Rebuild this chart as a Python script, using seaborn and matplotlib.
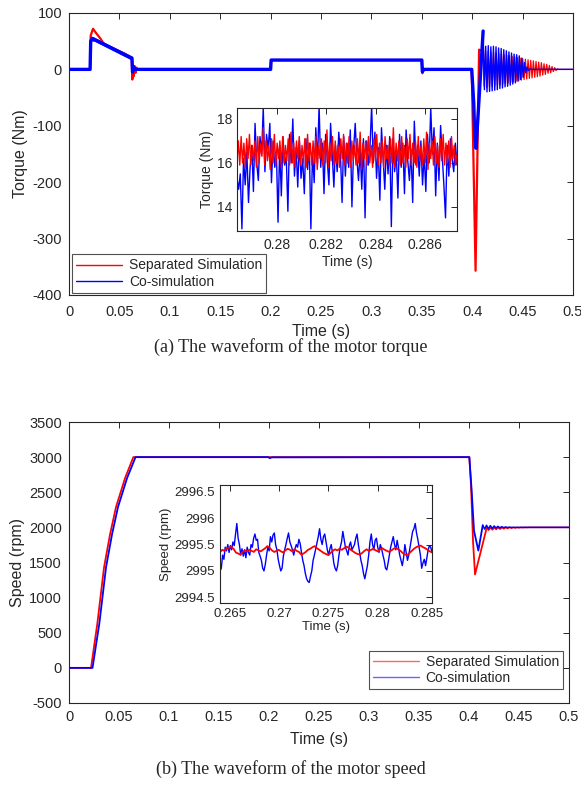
import numpy as np
import pandas as pd
import matplotlib
matplotlib.use("Agg")
import matplotlib.pyplot as plt
import seaborn as sns

sns.set_style("white")
plt.rcParams['font.family'] = ['Liberation Sans', 'DejaVu Sans']
plt.rcParams['axes.unicode_minus'] = False

RED = "#FF0000"
BLUE = "#0000FF"
labels_series = ["Separated Simulation", "Co-simulation"]

# ---------------- Torque (main) ----------------
tq_red_t = [0, 0.0209, 0.0215, 0.0238, 0.027, 0.031, 0.035, 0.045, 0.055, 0.0622,
            0.0628, 0.0635, 0.0642, 0.065, 0.066, 0.067, 0.068, 0.2, 0.2005, 0.35,
            0.3505, 0.352, 0.3995, 0.4033, 0.4068, 0.4105]
tq_red_v = [0, 0, 60, 72, 64, 55, 44, 36, 28, 20,
            -18, 8, -12, 6, -6, 3, 0, 0, 16.5, 16.5,
            -7, 0, 0, -357, 35, 32]
tq_red_osc = [-30, 33, -32, 32, -31, 31, -30, 30, -29, 29, -28, 28, -27, 27, -26, 26,
              -25, 25, -24, 24, -23, 23, -22, 22, -21, 21, -20, 20, -19, 19, -18, 18,
              -17, 17, -16, 16, -15, 15, -14, 14, -13, 13, -12, 12, -10, 10, -9, 9,
              -7, 7, -6, 5, -4, 3, -2, 1]
tq_red_end = [0, 0]

tq_blue_t = [0, 0.0209, 0.0215, 0.023, 0.0625, 0.063, 0.064, 0.0655, 0.2, 0.2005,
             0.35, 0.3505, 0.352, 0.3995, 0.4015, 0.4025, 0.403, 0.4038, 0.4108]
tq_blue_v = [0, 0, 50, 55, 20, -5, 4, 0, 0, 16.5,
             16.5, -4, 0, 0, -60, -117, -125, -140, 68]
tq_blue_osc = [-36, 41, -40, 42, -39, 40, -38, 41, -37, 40, -36, 38, -34, 37, -33, 35,
               -31, 33, -30, 31, -28, 29, -26, 27, -24, 26, -21, 24, -18, 20, -14, 12,
               -6, 4, -2, 1]
tq_blue_end = [0, 0]
# thick band of the co-simulation during the start-up
band_t = [0.0225, 0.025, 0.0625]
band_hi = [58, 57, 23]
band_lo = [50, 50, 16]

# ---------------- Torque (inset) ----------------
tq_in_red = [16.1,17.0,15.9,17.2,16.0,16.9,15.8,17.1,16.2,17.3,
15.9,16.8,16.1,17.0,15.8,17.2,16.0,16.9,16.3,17.6,
15.9,17.0,16.1,16.8,15.7,17.1,16.0,17.3,15.9,16.9,
16.2,17.0,15.8,17.2,16.0,16.8,16.1,17.1,15.9,17.4,
16.0,16.9,15.8,17.0,16.2,17.2,15.9,16.8,16.0,17.1,
15.8,17.3,16.1,16.9,15.9,17.0,16.0,17.2,15.7,16.8,
16.2,17.1,15.9,17.0,16.0,17.5,15.8,16.9,16.1,17.2,
15.9,17.0,16.0,16.8,15.8,17.1,16.2,17.3,15.9,16.9,
16.0,17.2,15.8,17.0,16.1,16.8,15.9,17.1,16.0,17.4,
15.7,16.9,16.2,17.0,15.9,17.2,16.0,16.8,15.8,17.1,
16.1,17.3,15.9,16.9,16.0,17.0,15.8,17.2,16.2,16.8,
15.9,17.1,16.0,17.6,15.8,16.9,16.1,17.0,15.9,17.2,
16.0,16.8,15.8,17.1,16.2,17.3,15.9,16.9,16.0,17.0,
15.8,17.2,16.1,16.8,15.9,17.1,16.0,17.4,15.7,16.9,
16.2,17.0,15.9,17.2,16.0,16.8,15.8,17.1,16.1,17.3,
15.9,16.9,16.0,17.0,15.8,17.2,16.2,16.8,15.9,16.4]
tq_in_blue = [15.3,14.8,15.5,13.0,16.2,15.0,16.5,14.2,15.8,16.8,
14.7,17.8,16.0,15.2,17.2,16.4,18.5,15.6,17.3,16.6,
17.8,15.1,17.0,15.8,16.5,13.3,16.8,14.5,17.2,15.9,
16.3,13.8,17.3,16.0,18.0,15.4,16.7,14.9,17.0,15.3,
16.2,14.6,17.1,15.7,16.9,13.0,16.5,15.1,17.6,16.0,
18.6,15.8,16.9,14.6,17.3,16.1,15.0,17.8,16.3,14.9,
16.8,15.6,17.4,16.4,14.2,17.2,15.4,16.9,15.8,17.5,
14.0,16.6,17.8,16.2,15.2,16.6,14.8,17.1,13.5,17.0,
15.9,16.7,18.6,16.0,17.4,15.3,16.7,14.3,17.6,16.2,
14.8,16.8,15.5,17.2,13.1,17.1,15.6,16.5,14.4,17.3,
15.8,16.9,14.6,17.5,16.1,15.2,16.6,14.2,17.9,15.9,
16.8,15.4,17.0,15.0,16.4,14.7,17.3,16.0,18.5,16.4,
17.6,14.5,16.9,15.2,17.7,16.3,15.0,13.5,16.8,15.4,
17.1,16.2,15.6,16.9,15.9]
tq_in_range = (0.27838, 0.2873)

# ---------------- Speed (main) ----------------
sp_red_t = [0, 0.022, 0.0283, 0.035, 0.041, 0.047, 0.056, 0.0643, 0.2, 0.4003,
            0.402, 0.404, 0.406, 0.4177]
sp_red_v = [0, 0, 630, 1430, 1900, 2290, 2700, 3000, 3000, 3000,
            2600, 1800, 1330, 1996]
sp_red_osc = [1960, 1995, 1965, 1997, 1970, 1998, 1975, 1998, 1980, 1999, 1984, 2000,
              1988, 2000, 1991, 2000, 1994, 2000, 1996, 2000, 1998, 2000]
sp_blue_t = [0, 0.0235, 0.0303, 0.037, 0.043, 0.049, 0.058, 0.0665, 0.1995, 0.2005,
             0.203, 0.4003, 0.4025, 0.405, 0.4093, 0.4137]
sp_blue_v = [0, 0, 630, 1430, 1900, 2290, 2700, 3000, 3000, 2985,
             2997, 3000, 2550, 1950, 1670, 2030]
sp_blue_osc = [1975, 2030, 1980, 2025, 1985, 2020, 1990, 2015, 1993, 2010, 1996, 2006,
               1998, 2003, 2000]

# ---------------- Speed (inset) ----------------
sp_in_red = [2995.36,2995.40,2995.38,2995.43,2995.44,2995.46,2995.42,2995.35,2995.33,2995.31,
2995.36,2995.39,2995.37,2995.40,2995.38,2995.36,2995.41,2995.39,2995.37,2995.40,
2995.43,2995.47,2995.44,2995.39,2995.36,2995.38,2995.40,2995.37,2995.35,2995.39,
2995.42,2995.40,2995.37,2995.41,2995.38,2995.36,2995.31,2995.33,2995.36,2995.40,
2995.42,2995.45,2995.47,2995.43,2995.40,2995.37,2995.34,2995.32,2995.30,2995.34,
2995.38,2995.41,2995.39,2995.42,2995.40,2995.43,2995.46,2995.44,2995.40,2995.37,
2995.34,2995.32,2995.31,2995.34,2995.38,2995.41,2995.38,2995.40,2995.42,2995.39,
2995.37,2995.41,2995.43,2995.40,2995.38,2995.36,2995.39,2995.42,2995.44,2995.41,
2995.38,2995.34,2995.31,2995.30,2995.34,2995.38,2995.42,2995.45,2995.47,2995.48,
2995.45,2995.43,2995.40,2995.37,2995.35]
sp_in_blue = [2995.00,2995.05,2995.30,2995.22,2995.45,2995.38,2995.50,2995.35,2995.48,2995.40,
2995.55,2995.48,2995.70,2995.90,2995.62,2995.50,2995.30,2995.42,2995.28,2995.40,
2995.25,2995.45,2995.35,2995.30,2995.50,2995.45,2995.62,2995.70,2995.58,2995.60,
2995.35,2995.28,2995.20,2995.05,2995.00,2995.12,2995.30,2995.45,2995.38,2995.65,
2995.55,2995.68,2995.72,2995.50,2995.40,2995.22,2995.10,2995.00,2995.05,2995.28,
2995.40,2995.50,2995.62,2995.72,2995.55,2995.48,2995.40,2995.30,2995.42,2995.50,
2995.45,2995.60,2995.52,2995.35,2995.20,2995.10,2994.95,2994.85,2994.80,2994.78,
2994.90,2995.00,2995.20,2995.30,2995.42,2995.55,2995.65,2995.80,2995.60,2995.50,
2995.65,2995.70,2995.55,2995.40,2995.30,2995.42,2995.50,2995.35,2995.15,2995.05,
2995.00,2995.10,2995.30,2995.45,2995.55,2995.75,2995.60,2995.45,2995.38,2995.30,
2995.48,2995.55,2995.40,2995.45,2995.50,2995.62,2995.70,2995.50,2995.35,2995.20,
2995.10,2994.95,2994.85,2994.98,2995.10,2995.30,2995.55,2995.70,2995.50,2995.40,
2995.58,2995.62,2995.45,2995.35,2995.50,2995.42,2995.30,2995.20,2995.05,2995.02,
2995.15,2995.30,2995.45,2995.55,2995.65,2995.50,2995.40,2995.58,2995.45,2995.30,
2995.20,2995.10,2995.25,2995.50,2995.35,2995.20,2995.30,2995.45,2995.60,2995.75,
2995.80,2995.90,2995.72,2995.60,2995.45,2995.30,2995.05,2995.15,2995.22,2995.10,
2995.25,2995.40,2995.48,2995.45,2995.35]
sp_in_range = (0.2640, 0.2855)

# tick labels
main_xticks = [0, 0.05, 0.1, 0.15, 0.2, 0.25, 0.3, 0.35, 0.4, 0.45, 0.5]
main_xlabels = ["0", "0.05", "0.1", "0.15", "0.2", "0.25", "0.3", "0.35", "0.4", "0.45", "0.5"]
tq_yticks = [-400, -300, -200, -100, 0, 100]
sp_yticks = [-500, 0, 500, 1000, 1500, 2000, 2500, 3000, 3500]
tq_in_xticks = [0.28, 0.282, 0.284, 0.286]
tq_in_xlabels = ["0.28", "0.282", "0.284", "0.286"]
tq_in_yticks = [14, 16, 18]
sp_in_xticks = [0.265, 0.27, 0.275, 0.28, 0.285]
sp_in_xlabels = ["0.265", "0.27", "0.275", "0.28", "0.285"]
sp_in_yticks = [2994.5, 2995, 2995.5, 2996, 2996.5]
sp_in_ylabels = ["2994.5", "2995", "2995.5", "2996", "2996.5"]


def split_osc(t, v, osc, half, end_t, end_v):
    """main part as given, oscillating tail as a second frame"""
    head = pd.DataFrame({"t": list(t), "v": list(v)})
    tt = [t[-1]] + list(t[-1] + half * np.arange(1, len(osc) + 1))
    vv = [v[-1]] + list(osc)
    tt += [tt[-1] + half, end_t]
    vv += end_v
    tail = pd.DataFrame({"t": tt, "v": vv})
    return head, tail


def line(ax, df, color, lw, label=None, alpha=1.0):
    sns.lineplot(data=df, x="t", y="v", ax=ax, color=color, lw=lw, estimator=None,
                 sort=False, label=label, legend=False, alpha=alpha)


def style(ax, fs, padx=3.5, pady=3.5):
    ax.tick_params(direction="in", top=True, right=True, length=4, width=0.7,
                   labelsize=fs, colors="#262626")
    ax.tick_params(axis="x", pad=padx)
    ax.tick_params(axis="y", pad=pady)
    for s in ax.spines.values():
        s.set_color("#262626")
        s.set_linewidth(0.8)


def legend(ax, **kw):
    lg = ax.legend(fontsize=10, frameon=True, fancybox=False, edgecolor="#262626",
                   handlelength=3.3, borderpad=0.3, labelspacing=0.15,
                   handletextpad=0.5, borderaxespad=0, **kw)
    lg.get_frame().set_linewidth(0.8)
    return lg


fig = plt.figure(figsize=(5.81, 7.86), dpi=100)

# ===== Torque main =====
ax1 = fig.add_axes([0.1188, 0.6247, 0.8675, 0.3588])
r_head, r_tail = split_osc(tq_red_t, tq_red_v, tq_red_osc, 0.00132, 0.5, tq_red_end)
b_head, b_tail = split_osc(tq_blue_t, tq_blue_v, tq_blue_osc, 0.00128, 0.5, tq_blue_end)
line(ax1, r_head, RED, 1.6, labels_series[0])
line(ax1, r_tail, RED, 0.9)
ax1.fill_between(band_t, band_lo, band_hi, color=BLUE, lw=0)
line(ax1, b_head, BLUE, 2.4, labels_series[1])
line(ax1, b_tail, BLUE, 1.0)
ax1.set_xlim(0, 0.5)
ax1.set_ylim(-400, 100)
ax1.set_xticks(main_xticks, main_xlabels)
ax1.set_yticks(tq_yticks)
ax1.set_xlabel("Time (s)", fontsize=11.5, labelpad=4)
ax1.set_ylabel("Torque (Nm)", fontsize=11.5, labelpad=3)
style(ax1, 10.5, padx=7, pady=5)
leg = legend(ax1, loc="lower left", bbox_to_anchor=(0.006, 0.008))
for h in leg.get_lines():
    h.set_linewidth(1.0)

# ===== Torque inset =====
ax1i = fig.add_axes([0.4079, 0.7061, 0.3787, 0.1565])
df_ib = pd.DataFrame({"t": np.linspace(*tq_in_range, len(tq_in_blue)), "v": tq_in_blue})
df_ir = pd.DataFrame({"t": np.linspace(*tq_in_range, len(tq_in_red)), "v": tq_in_red})
line(ax1i, df_ib, BLUE, 1.0)
line(ax1i, df_ir, RED, 1.0)
ax1i.set_xlim(*tq_in_range)
ax1i.set_ylim(12.9, 18.5)
ax1i.set_xticks(tq_in_xticks, tq_in_xlabels)
ax1i.set_yticks(tq_in_yticks)
ax1i.set_xlabel("Time (s)", fontsize=10, labelpad=2)
ax1i.set_ylabel("Torque (Nm)", fontsize=10, labelpad=2)
style(ax1i, 10, padx=5)

# ===== Speed main =====
ax2 = fig.add_axes([0.1188, 0.1056, 0.8606, 0.3575])
sr_head, sr_tail = split_osc(sp_red_t, sp_red_v, sp_red_osc, 0.0019, 0.5, [2000, 2000])
sb_head, sb_tail = split_osc(sp_blue_t, sp_blue_v, sp_blue_osc, 0.0019, 0.5, [2000, 2000])
line(ax2, sr_head, RED, 1.3, labels_series[0])
line(ax2, sr_tail, RED, 1.1)
line(ax2, sb_head, BLUE, 1.3, labels_series[1])
line(ax2, sb_tail, BLUE, 1.1)
ax2.set_xlim(0, 0.5)
ax2.set_ylim(-500, 3500)
ax2.set_xticks(main_xticks, main_xlabels)
ax2.set_yticks(sp_yticks)
ax2.set_xlabel("Time (s)", fontsize=11.5, labelpad=6)
ax2.set_ylabel("Speed (rpm)", fontsize=11.5, labelpad=3)
style(ax2, 10.5, padx=5, pady=5)
leg2 = legend(ax2, loc="lower right", bbox_to_anchor=(0.988, 0.05))
for h in leg2.get_lines():
    h.set_linewidth(1.0)
    h.set_alpha(0.6)

# ===== Speed inset =====
ax2i = fig.add_axes([0.3787, 0.2328, 0.3649, 0.1501])
df_sib = pd.DataFrame({"t": np.linspace(*sp_in_range, len(sp_in_blue)), "v": sp_in_blue})
df_sir = pd.DataFrame({"t": np.linspace(*sp_in_range, len(sp_in_red)), "v": sp_in_red})
line(ax2i, df_sib, BLUE, 1.0)
line(ax2i, df_sir, RED, 1.3)
ax2i.set_xlim(*sp_in_range)
ax2i.set_ylim(2994.39, 2996.63)
ax2i.set_xticks(sp_in_xticks, sp_in_xlabels)
ax2i.set_yticks(sp_in_yticks, sp_in_ylabels)
ax2i.set_xlabel("Time (s)", fontsize=9.5, labelpad=1)
ax2i.set_ylabel("Speed (rpm)", fontsize=9.5, labelpad=2)
style(ax2i, 9.5)

# captions
fig.text(0.5, 0.5585, "(a) The waveform of the motor torque", ha="center", va="center",
         fontsize=13, family=["Liberation Serif", "DejaVu Serif"])
fig.text(0.5, 0.0216, "(b) The waveform of the motor speed", ha="center", va="center",
         fontsize=13, family=["Liberation Serif", "DejaVu Serif"])

fig.savefig("out.png", dpi=100)
